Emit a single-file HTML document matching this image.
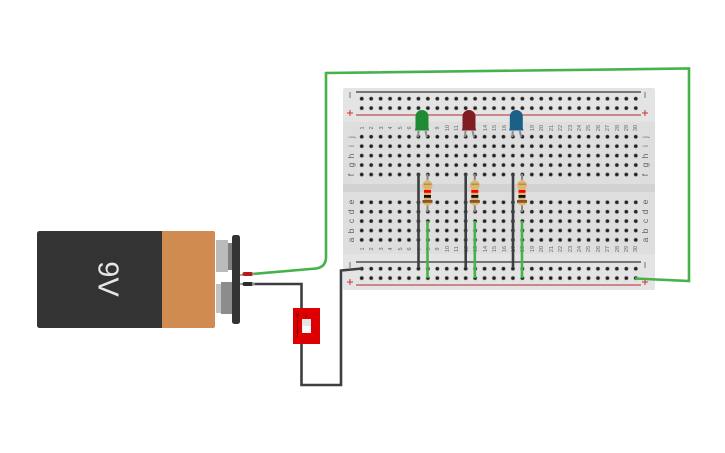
<!DOCTYPE html>
<html><head><meta charset="utf-8"><style>
html,body{margin:0;padding:0;background:#fff;width:725px;height:453px;overflow:hidden}
svg{display:block;filter:blur(.3px)}
text{font-family:"Liberation Sans",sans-serif}
.n{font-size:5.500px;fill:#666;text-anchor:middle}
.l{font-size:8.500px;fill:#606060;text-anchor:middle}
</style></head><body>
<svg width="725" height="453" viewBox="0 0 725 453" xmlns="http://www.w3.org/2000/svg">
<defs>
<pattern id="h1" x="357" y="94" width="9.45" height="9.4" patternUnits="userSpaceOnUse"><circle cx="4.72" cy="4.7" r="2.4" fill="#c0c0c0"/><circle cx="4.72" cy="4.7" r="1.75" fill="#222"/></pattern>
<pattern id="h2" x="357" y="132" width="9.45" height="9.45" patternUnits="userSpaceOnUse"><circle cx="4.72" cy="4.7" r="2.4" fill="#c0c0c0"/><circle cx="4.72" cy="4.7" r="1.75" fill="#222"/></pattern>
<pattern id="h3" x="357" y="197.6" width="9.45" height="9.4" patternUnits="userSpaceOnUse"><circle cx="4.72" cy="4.7" r="2.4" fill="#c0c0c0"/><circle cx="4.72" cy="4.7" r="1.75" fill="#222"/></pattern>
<pattern id="h4" x="357" y="264" width="9.45" height="9.4" patternUnits="userSpaceOnUse"><circle cx="4.72" cy="4.7" r="2.4" fill="#c0c0c0"/><circle cx="4.72" cy="4.7" r="1.75" fill="#222"/></pattern>
<g id="res">
<path d="M0 174V180M0 205V212" stroke="#888" stroke-width="2"/>
<path d="M-2 180.500Q0 179 2 180.500Q5.500 183 5 186Q3.500 188 3.500 190V198Q3.500 200 5 201.500Q5.500 204 2 205Q0 206.500 -2 205Q-5.500 204 -5 201.500Q-3.500 200 -3.500 198V190Q-3.500 188 -5 186Q-5.500 183 -2 180.500Z" fill="#dfb66f"/>
<rect x="-3.500" y="183.500" width="7.500" height="1.500" fill="#a89060"/>
<rect x="-3.500" y="190" width="7" height="2.800" fill="#f00"/>
<rect x="-3.500" y="195" width="7" height="2.800" fill="#111"/>
<rect x="-5" y="200" width="10" height="2.800" fill="#8a5426"/>
</g>
<g id="led">
<path d="M-3.500 131L-4 137M3.500 131L5 137" stroke="#8c8c8c" stroke-width="2" fill="none"/>
<path d="M-6.500 128V116.500A6.500 6.500 0 0 1 6.500 116.500V128L7.200 130.500H-7.200Z" fill="currentColor"/>
</g>
</defs>

<!-- breadboard -->
<rect x="343" y="88" width="312" height="202" rx="2" fill="#e4e4e4"/>
<rect x="343" y="122" width="312" height="62" fill="#dedede"/>
<rect x="343" y="184" width="312" height="8" fill="#d2d2d2"/>
<rect x="343" y="192" width="312" height="62" fill="#dedede"/>
<rect x="357" y="94" width="283.500" height="18.800" fill="url(#h1)"/>
<rect x="357" y="132" width="283.500" height="47.200" fill="url(#h2)"/>
<rect x="357" y="197.600" width="283.500" height="47" fill="url(#h3)"/>
<rect x="357" y="264" width="283.500" height="18.800" fill="url(#h4)"/>
<path d="M356 92H641M356 262H641" stroke="#333" stroke-width="1.200"/>
<path d="M356 115H641M356 285H641" stroke="#c46a6a" stroke-width="1.600"/>
<path d="M350 92V98M645 92V98M350 262V268M645 262V268" stroke="#888" stroke-width="1.200"/>
<path d="M347 113H353M350 110V116M642 113H648M645 110V116M347 282H353M350 279V285M642 282H648M645 279V285" stroke="#c33" stroke-width="1"/>

<!-- numbers -->
<g class="n">
<text transform="translate(364 128) rotate(-90)">1</text><text transform="translate(373 128) rotate(-90)">2</text><text transform="translate(383 128) rotate(-90)">3</text><text transform="translate(392 128) rotate(-90)">4</text><text transform="translate(402 128) rotate(-90)">5</text><text transform="translate(411 128) rotate(-90)">6</text><text transform="translate(439 128) rotate(-90)">9</text><text transform="translate(449 128) rotate(-90)">10</text><text transform="translate(458 128) rotate(-90)">11</text><text transform="translate(487 128) rotate(-90)">14</text><text transform="translate(496 128) rotate(-90)">15</text><text transform="translate(506 128) rotate(-90)">16</text><text transform="translate(534 128) rotate(-90)">19</text><text transform="translate(543 128) rotate(-90)">20</text><text transform="translate(553 128) rotate(-90)">21</text><text transform="translate(562 128) rotate(-90)">22</text><text transform="translate(572 128) rotate(-90)">23</text><text transform="translate(581 128) rotate(-90)">24</text><text transform="translate(590 128) rotate(-90)">25</text><text transform="translate(600 128) rotate(-90)">26</text><text transform="translate(609 128) rotate(-90)">27</text><text transform="translate(619 128) rotate(-90)">28</text><text transform="translate(628 128) rotate(-90)">29</text><text transform="translate(637 128) rotate(-90)">30</text>
<text transform="translate(364 249) rotate(-90)">1</text><text transform="translate(373 249) rotate(-90)">2</text><text transform="translate(383 249) rotate(-90)">3</text><text transform="translate(392 249) rotate(-90)">4</text><text transform="translate(402 249) rotate(-90)">5</text><text transform="translate(411 249) rotate(-90)">6</text><text transform="translate(421 249) rotate(-90)">7</text><text transform="translate(430 249) rotate(-90)">8</text><text transform="translate(439 249) rotate(-90)">9</text><text transform="translate(449 249) rotate(-90)">10</text><text transform="translate(458 249) rotate(-90)">11</text><text transform="translate(468 249) rotate(-90)">12</text><text transform="translate(477 249) rotate(-90)">13</text><text transform="translate(487 249) rotate(-90)">14</text><text transform="translate(496 249) rotate(-90)">15</text><text transform="translate(506 249) rotate(-90)">16</text><text transform="translate(515 249) rotate(-90)">17</text><text transform="translate(524 249) rotate(-90)">18</text><text transform="translate(534 249) rotate(-90)">19</text><text transform="translate(543 249) rotate(-90)">20</text><text transform="translate(553 249) rotate(-90)">21</text><text transform="translate(562 249) rotate(-90)">22</text><text transform="translate(572 249) rotate(-90)">23</text><text transform="translate(581 249) rotate(-90)">24</text><text transform="translate(590 249) rotate(-90)">25</text><text transform="translate(600 249) rotate(-90)">26</text><text transform="translate(609 249) rotate(-90)">27</text><text transform="translate(619 249) rotate(-90)">28</text><text transform="translate(628 249) rotate(-90)">29</text><text transform="translate(637 249) rotate(-90)">30</text>
</g>
<!-- letters -->
<g class="l">
<text transform="translate(354 137) rotate(-90)">j</text><text transform="translate(354 146) rotate(-90)">i</text><text transform="translate(354 156) rotate(-90)">h</text><text transform="translate(354 165) rotate(-90)">g</text><text transform="translate(354 175) rotate(-90)">f</text>
<text transform="translate(354 202) rotate(-90)">e</text><text transform="translate(354 212) rotate(-90)">d</text><text transform="translate(354 221) rotate(-90)">c</text><text transform="translate(354 231) rotate(-90)">b</text><text transform="translate(354 240) rotate(-90)">a</text>
<text transform="translate(648 137) rotate(-90)">j</text><text transform="translate(648 146) rotate(-90)">i</text><text transform="translate(648 156) rotate(-90)">h</text><text transform="translate(648 165) rotate(-90)">g</text><text transform="translate(648 175) rotate(-90)">f</text>
<text transform="translate(648 202) rotate(-90)">e</text><text transform="translate(648 212) rotate(-90)">d</text><text transform="translate(648 221) rotate(-90)">c</text><text transform="translate(648 231) rotate(-90)">b</text><text transform="translate(648 240) rotate(-90)">a</text>
</g>

<!-- battery -->
<rect x="37" y="231" width="178" height="97" rx="2.500" fill="#333"/>
<path d="M162 231H213Q215 231 215 233V325Q215 328 213 328H162Z" fill="#d08c50"/>
<text transform="translate(106 279) rotate(90)" font-size="29" fill="#e6e6e6" text-anchor="middle" dominant-baseline="middle">9V</text>
<rect x="216" y="240" width="12" height="32" fill="#bbb"/>
<rect x="228" y="243" width="5" height="27" fill="#808080"/>
<rect x="216" y="284" width="6" height="29" fill="#c2c2c2"/>
<rect x="221" y="282" width="12" height="32" fill="#8c8c8c"/>
<rect x="232" y="235" width="8" height="89" rx="2.500" fill="#333"/>
<path d="M240 275H244M240 284H244" stroke="#555" stroke-width="1"/>

<!-- wires -->
<path d="M252 274L316 268.500Q326 267 326 257V73L689 68.500V281L635 278.500" fill="none" stroke="#45b24a" stroke-width="2.600"/>
<path d="M252 284H301.500V385H341V270.500L362 268.500" fill="none" stroke="#3c3f42" stroke-width="2.600"/>
<path d="M244.500 274H251" stroke="#b71c1c" stroke-width="4" stroke-linecap="round"/>
<path d="M244.500 284H251" stroke="#2c2c2c" stroke-width="4" stroke-linecap="round"/>
<path d="M252 284H255" stroke="#888" stroke-width="2.200"/>
<path d="M252 274H255" stroke="#999" stroke-width="1.500"/>

<!-- switch -->
<rect x="293" y="308" width="27" height="36" fill="#de0000"/>
<rect x="302" y="319" width="9" height="14" fill="#e4e4e4"/>
<rect x="302.500" y="326" width="8" height="7" fill="#fafafa"/>
<path d="M297.500 320V337" stroke="#600" stroke-width="0.800"/>
<text transform="translate(296 311) rotate(90)" font-size="4.500" fill="#500">ON</text>
<text x="306" y="317" font-size="5" fill="#500" text-anchor="middle">1</text>

<!-- black & green jumpers -->
<path d="M418.500 174V268M465.700 174V268M513 174V268" stroke="#3c3f42" stroke-width="2.600"/>
<path d="M427.500 221V278M474.800 221V278M522 221V278" stroke="#45b24a" stroke-width="2.600"/>

<!-- resistors -->
<use href="#res" x="427.500"/>
<use href="#res" x="474.800"/>
<use href="#res" x="522"/>

<!-- LEDs -->
<use href="#led" x="422" style="color:#1f8a34"/>
<use href="#led" x="469" style="color:#7f1d22"/>
<use href="#led" x="516.300" style="color:#1c6088"/>
</svg>
</body></html>
